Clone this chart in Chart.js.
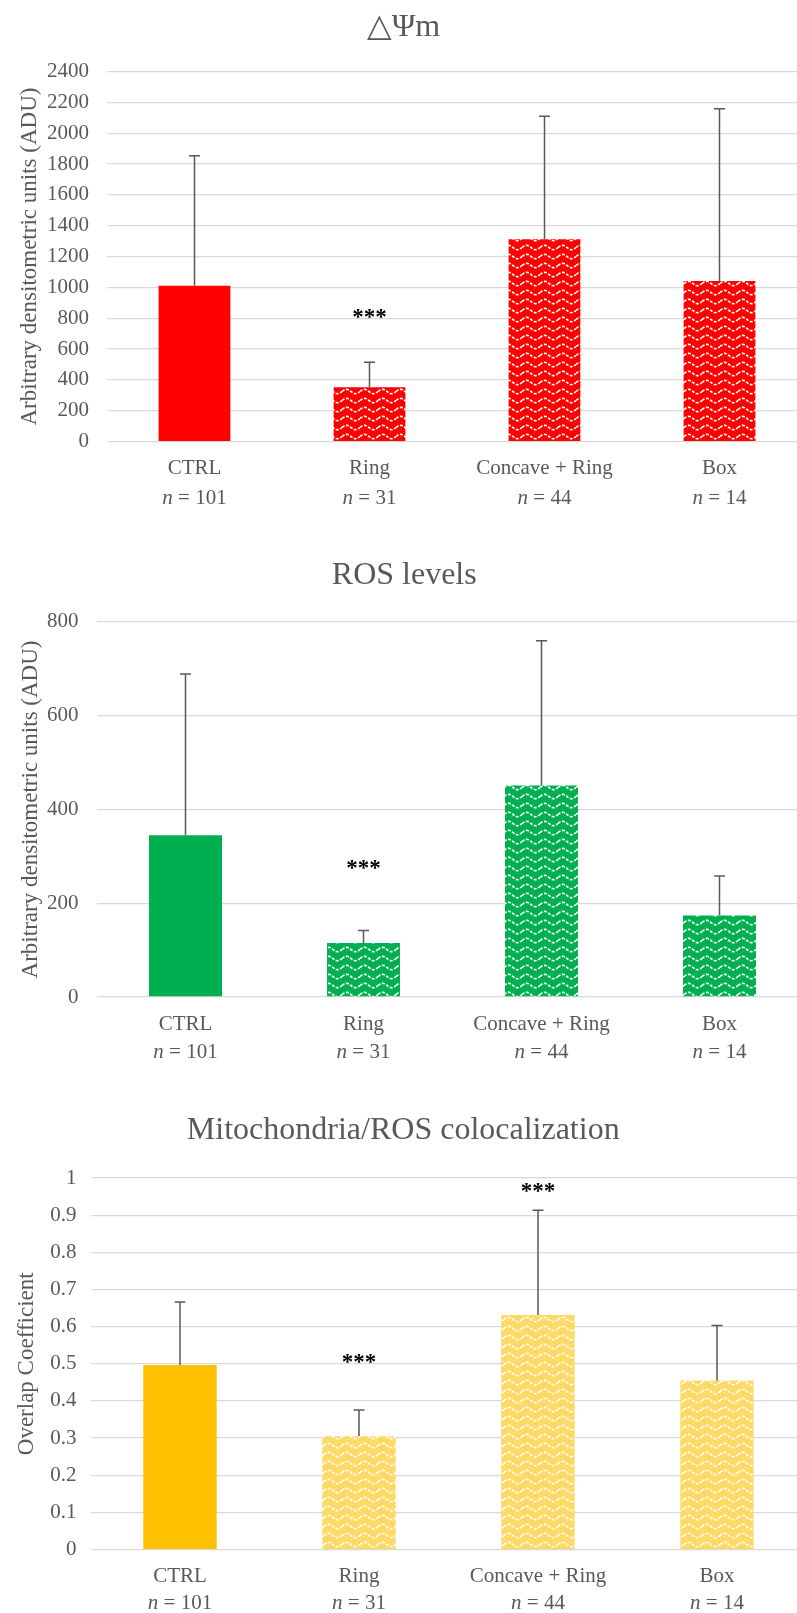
<!DOCTYPE html>
<html>
<head>
<meta charset="utf-8">
<script src="https://cdn.jsdelivr.net/npm/chart.js@4.4.1/dist/chart.umd.min.js"></script>
<style>
  html, body { margin: 0; padding: 0; background: #fff; overflow: hidden; }
  .box { position: absolute; left: 0; width: 816px; }
  canvas { display: block; }
</style>
</head>
<body>
<div class="box" style="top:0px"><canvas id="psiChart" width="816" height="520"></canvas></div>
<div class="box" style="top:540px"><canvas id="rosChart" width="816" height="530"></canvas></div>
<div class="box" style="top:1090px"><canvas id="colocChart" width="816" height="523"></canvas></div>
<script>
const categories = ["CTRL", "Ring", "Concave + Ring", "Box"];
const sampleSizes = [101, 31, 44, 14];

const psiMeans = [1010, 352, 1312, 1042];
const psiErrors = [843, 163, 798, 1116];
const psiStars = [null, 815, null, null];

const rosMeans = [345, 115, 451, 174];
const rosErrors = [344, 27, 309, 84];
const rosStars = [null, 279, null, null];

const colocMeans = [0.497, 0.305, 0.631, 0.455];
const colocErrors = [0.169, 0.071, 0.282, 0.148];
const colocStars = [null, 0.51, 0.97, null];

const GREY = "#595959";
const FONT = '"Liberation Serif", "Times New Roman", serif';

function wavePattern(base) {
  const tile = document.createElement("canvas");
  tile.width = 18;
  tile.height = 9;
  const c = tile.getContext("2d");
  c.fillStyle = base;
  c.fillRect(0, 0, 18, 9);
  c.strokeStyle = "#fff";
  c.lineWidth = 1.6;
  c.setLineDash([3, 1.5]);
  c.beginPath();
  for (let x = 0; x <= 18; x += 0.5) {
    const y = 4.5 - 2.2 * Math.sin((x / 18) * 2 * Math.PI);
    if (x === 0) c.moveTo(x, y);
    else c.lineTo(x, y);
  }
  c.stroke();
  return c.createPattern(tile, "repeat");
}

// error bars, asterisks and the "n = .." line under each category
const extrasPlugin = {
  id: "extras",
  afterDatasetsDraw(chart, args, opts) {
    const { ctx, scales: { x, y } } = chart;
    const means = chart.data.datasets[0].data;
    ctx.save();
    ctx.strokeStyle = GREY;
    ctx.lineWidth = 1.5;
    means.forEach((m, i) => {
      const cx = x.getPixelForValue(i);
      const y0 = y.getPixelForValue(m);
      const y1 = y.getPixelForValue(m + opts.errors[i]);
      ctx.beginPath();
      ctx.moveTo(cx, y0);
      ctx.lineTo(cx, y1);
      ctx.moveTo(cx - 5.5, y1);
      ctx.lineTo(cx + 5.5, y1);
      ctx.stroke();
    });

    ctx.fillStyle = "#000";
    ctx.font = "bold 23px " + FONT;
    ctx.textAlign = "center";
    ctx.textBaseline = "alphabetic";
    opts.stars.forEach((s, i) => {
      if (s == null) return;
      ctx.fillText("***", x.getPixelForValue(i), y.getPixelForValue(s) + 8.5);
    });

    ctx.fillStyle = GREY;
    ctx.textAlign = "left";
    ctx.textBaseline = "middle";
    const ny = chart.chartArea.bottom + opts.nOffset;
    sampleSizes.forEach((n, i) => {
      const italic = "italic 21px " + FONT;
      const plain = "21px " + FONT;
      const rest = " = " + n;
      ctx.font = italic;
      const w1 = ctx.measureText("n").width;
      ctx.font = plain;
      const w2 = ctx.measureText(rest).width;
      const sx = x.getPixelForValue(i) - (w1 + w2) / 2;
      ctx.font = italic;
      ctx.fillText("n", sx, ny);
      ctx.font = plain;
      ctx.fillText(rest, sx + w1, ny);
    });
    ctx.restore();
  },
};

function makeChart(id, means, errors, stars, color, s) {
  const ctx = document.getElementById(id).getContext("2d");
  const pattern = wavePattern(s.patternColor || color);
  return new Chart(ctx, {
    type: "bar",
    data: {
      labels: categories,
      datasets: [
        {
          data: means,
          backgroundColor: [color, pattern, pattern, pattern],
          borderWidth: 0,
          barPercentage: 0.41,
          categoryPercentage: 1,
        },
      ],
    },
    options: {
      responsive: false,
      animation: false,
      layout: { padding: { left: 0, right: s.padRight, top: 0, bottom: s.padBottom } },
      plugins: {
        legend: { display: false },
        tooltip: { enabled: false },
        title: {
          display: true,
          text: s.title,
          color: GREY,
          font: { family: FONT, size: 32, weight: "normal" },
          padding: { top: s.titleTop, bottom: s.titleBottom },
        },
        extras: { errors: errors, stars: stars, nOffset: s.nOffset },
      },
      scales: {
        x: {
          grid: { display: false, drawTicks: false },
          border: { display: false },
          ticks: { color: GREY, padding: s.xPad, font: { family: FONT, size: 21 } },
        },
        y: {
          min: 0,
          max: s.max,
          afterFit: (scale) => { scale.width = s.plotLeft; },
          grid: { color: "#D9D9D9", lineWidth: 1.3, drawTicks: false },
          border: { display: false },
          ticks: {
            stepSize: s.step,
            color: GREY,
            padding: s.yPad,
            font: { family: FONT, size: 21 },
            callback: (v) => String(Math.round(v * 10) / 10),
          },
          title: {
            display: true,
            text: s.yTitle,
            color: GREY,
            font: { family: FONT, size: 23 },
            padding: { top: s.yTitleTop, bottom: 0 },
          },
        },
      },
    },
    plugins: [extrasPlugin],
  });
}

makeChart("psiChart", psiMeans, psiErrors, psiStars, "#FF0000", {
  title: "\u25B3\u03A8m",
  yTitle: "Arbitrary densitometric units (ADU)",
  max: 2400, step: 200,
  plotLeft: 107, padRight: 9,
  titleTop: 8.4, titleBottom: 24.7,
  padBottom: 25.2, xPad: 14, yPad: 18, yTitleTop: 16, nOffset: 57,
});

makeChart("rosChart", rosMeans, rosErrors, rosStars, "#00B050", {
  title: "ROS levels",
  yTitle: "Arbitrary densitometric units (ADU)",
  max: 800, step: 200,
  plotLeft: 96.5, padRight: 7.5,
  titleTop: 16.1, titleBottom: 27.4,
  padBottom: 19, xPad: 14.4, yPad: 18, yTitleTop: 17, nOffset: 55,
});

makeChart("colocChart", colocMeans, colocErrors, colocStars, "#FFC000", {
  title: "Mitochondria/ROS colocalization",
  yTitle: "Overlap Coefficient",
  patternColor: "#FFD966",
  max: 1, step: 0.1,
  plotLeft: 90.5, padRight: 9.5,
  titleTop: 21.8, titleBottom: 27.8,
  padBottom: 9.4, xPad: 14.4, yPad: 14, yTitleTop: 13.5, nOffset: 53.5,
});
</script>
</body>
</html>
